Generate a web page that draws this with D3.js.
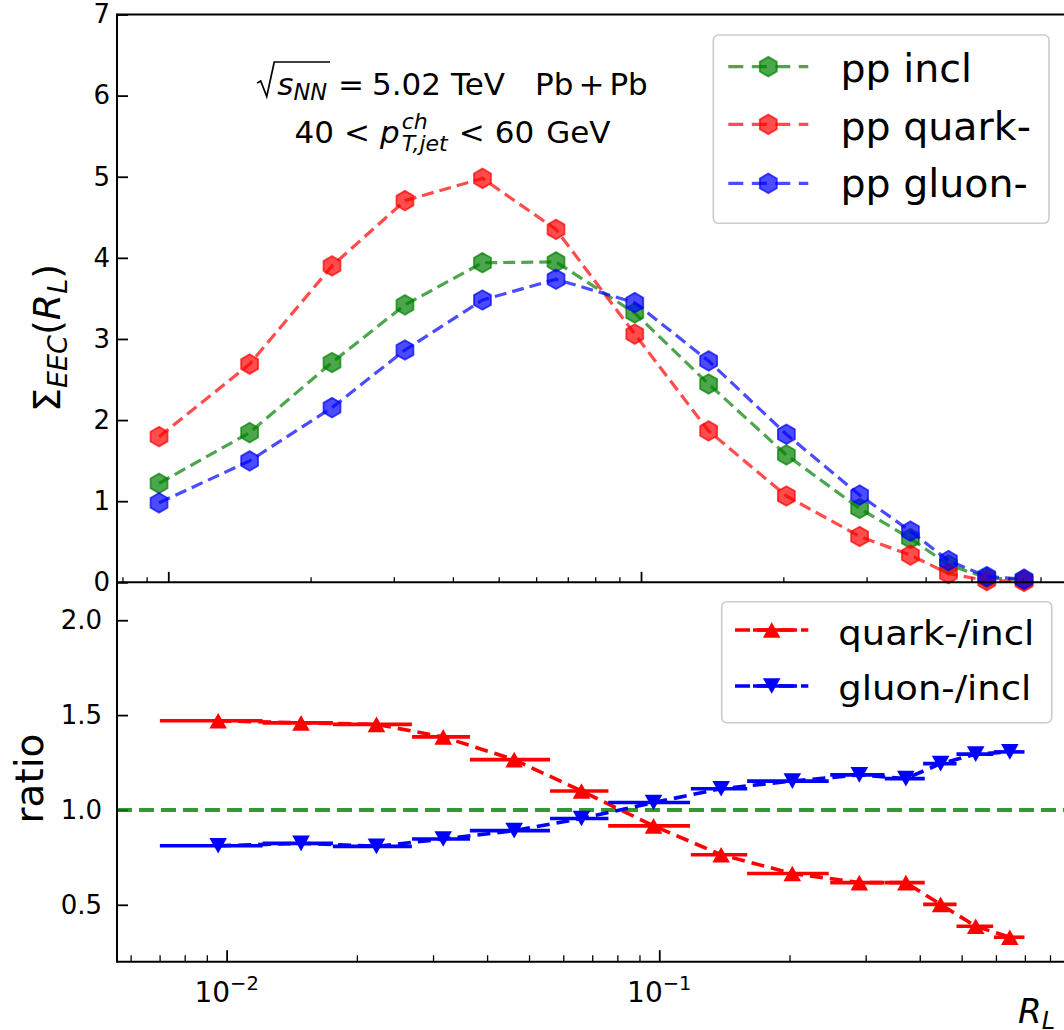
<!DOCTYPE html>
<html>
<head>
<meta charset="utf-8">
<script src="https://cdn.jsdelivr.net/npm/d3@7"></script>
<style>
  html, body { margin: 0; padding: 0; background: #ffffff; }
  svg { display: block; }
  text { font-family: "DejaVu Sans", sans-serif; fill: #000; }
</style>
</head>
<body>
<svg id="chart" width="1064" height="1030"></svg>
<script>
// R_L bin centres and half-widths of the bins
const rl          = [0.00956, 0.01486, 0.0222, 0.03167, 0.0462, 0.0661, 0.0970, 0.1390, 0.2030, 0.2900, 0.3715, 0.4470, 0.5388, 0.6460];
const rlHalfWidth = [0.00255, 0.00275, 0.0046, 0.00485, 0.0097, 0.0102, 0.0208, 0.0207, 0.0434, 0.0416, 0.0393, 0.0397, 0.0524, 0.0525];

// Sigma_EEC(R_L) for pp jets
const eecIncl  = [1.22, 1.845, 2.71, 3.42, 3.94, 3.95, 3.32, 2.445, 1.57, 0.91, 0.54, 0.215, 0.055, 0.030];
const eecQuark = [1.795, 2.69, 3.90, 4.705, 4.98, 4.35, 3.06, 1.866, 1.064, 0.565, 0.335, 0.108, 0.021, 0.010];
const eecGluon = [0.98, 1.496, 2.153, 2.864, 3.48, 3.736, 3.448, 2.729, 1.825, 1.075, 0.63, 0.267, 0.071, 0.039];

// ratios to the inclusive sample
const ratioQuark = [1.470, 1.459, 1.451, 1.385, 1.265, 1.100, 0.916, 0.764, 0.665, 0.617, 0.617, 0.502, 0.387, 0.329];
const ratioGluon = [0.811, 0.824, 0.808, 0.847, 0.891, 0.955, 1.039, 1.112, 1.152, 1.185, 1.165, 1.244, 1.294, 1.306];
const ratioReference = 1.0;

// axis ranges and ticks
const eecRange    = [0, 7];
const ratioRange  = [0.2, 2.2];
const rlRangeTop  = [0.00779, 0.832];
const rlRangeLow  = [0.00558, 0.9188];
const eecTicks    = [0, 1, 2, 3, 4, 5, 6, 7];
const ratioTicks  = [0.5, 1.0, 1.5, 2.0];
const ratioTickLabels = ["0.5", "1.0", "1.5", "2.0"];
const decadeExponents = ["\u22122", "\u22121"];

const topNames   = ["pp incl", "pp quark-", "pp gluon-"];
const topColors  = ["#008000", "#ff0000", "#0000ff"];
const ratioNames = ["quark-/incl", "gluon-/incl"];
const ratioColors = ["#ff0000", "#0000ff"];

// ---------------------------------------------------------------
const svg = d3.select("#chart");
svg.append("rect").attr("width", 1064).attr("height", 1030).attr("fill", "#fff");

const axLeft = 117, axRight = 1076;
const topPanel = { y0: 14.5, y1: 582.3 };
const lowPanel = { y0: 582.3, y1: 961.7 };

const xTop = d3.scaleLog().domain(rlRangeTop).range([axLeft, axRight]);
const xLow = d3.scaleLog().domain(rlRangeLow).range([axLeft, axRight]);
const yTop = d3.scaleLinear().domain(eecRange).range([topPanel.y1, topPanel.y0]);
const yLow = d3.scaleLinear().domain(ratioRange).range([lowPanel.y1, lowPanel.y0]);

function logTicks(scale) {
  const [a, b] = scale.domain();
  const major = [], minor = [];
  for (let e = -3; e <= 0; e++) {
    for (let k = 1; k <= 9; k++) {
      const v = k * Math.pow(10, e);
      if (v >= a && v <= b) (k === 1 ? major : minor).push(v);
    }
  }
  return { major, minor };
}

function styleTicks(g, width) {
  g.select(".domain").remove();
  g.selectAll(".tick line").attr("stroke", "#000").attr("stroke-width", width);
}

// ---------------- top panel: Sigma_EEC -----------------
const gTop = svg.append("g");

gTop.append("g")
  .attr("transform", `translate(${axLeft},0)`)
  .call(d3.axisLeft(yTop).tickValues(eecTicks).tickSize(-11).tickPadding(7).tickFormat(d3.format("d")))
  .call(g => styleTicks(g, 1.8))
  .call(g => g.selectAll(".tick text").attr("font-size", 26).attr("font-family", "DejaVu Sans").attr("fill", "#000"));

// x ticks (no labels) on the bottom edge of the top panel
const tkTop = logTicks(xTop);
gTop.append("g")
  .attr("transform", `translate(0,${topPanel.y1})`)
  .call(d3.axisBottom(xTop).tickValues(tkTop.major).tickSize(-10.5).tickFormat(""))
  .call(g => styleTicks(g, 1.8));
gTop.append("g")
  .attr("transform", `translate(0,${topPanel.y1})`)
  .call(d3.axisBottom(xTop).tickValues(tkTop.minor).tickSize(-5).tickFormat(""))
  .call(g => styleTicks(g, 1.3));

// hexagon marker, pointy top
function hexPath(r) {
  const pts = d3.range(6).map(i => {
    const a = (-90 + 60 * i) * Math.PI / 180;
    return [r * Math.cos(a), r * Math.sin(a)];
  });
  return "M" + pts.map(p => p.join(",")).join("L") + "Z";
}

const topData = [eecIncl, eecQuark, eecGluon];
const lineTop = d3.line().x((d, i) => xTop(rl[i])).y(d => yTop(d));

topData.forEach((vals, s) => {
  const col = topColors[s];
  const g = gTop.append("g");
  g.append("path")
    .attr("d", lineTop(vals))
    .attr("fill", "none")
    .attr("stroke", col)
    .attr("stroke-opacity", 0.7)
    .attr("stroke-width", 3.2)
    .attr("stroke-dasharray", "12,6");
  g.selectAll("path.m").data(vals).join("path")
    .attr("class", "m")
    .attr("d", hexPath(9.8))
    .attr("transform", (d, i) => `translate(${xTop(rl[i])},${yTop(d)})`)
    .attr("fill", col).attr("fill-opacity", 0.7)
    .attr("stroke", col).attr("stroke-opacity", 0.7).attr("stroke-width", 1.8);
});

// ---------------- lower panel: ratios -----------------
const gLow = svg.append("g");

gLow.append("g")
  .attr("transform", `translate(${axLeft},0)`)
  .call(d3.axisLeft(yLow).tickValues(ratioTicks).tickSize(-11).tickPadding(15)
        .tickFormat((d, i) => ratioTickLabels[i]))
  .call(g => styleTicks(g, 1.8))
  .call(g => g.selectAll(".tick text").attr("font-size", 26).attr("font-family", "DejaVu Sans").attr("fill", "#000"));

const tkLow = logTicks(xLow);
gLow.append("g")
  .attr("transform", `translate(0,${lowPanel.y1})`)
  .call(d3.axisBottom(xLow).tickValues(tkLow.major).tickSize(-11.5).tickFormat(""))
  .call(g => styleTicks(g, 1.8));
gLow.append("g")
  .attr("transform", `translate(0,${lowPanel.y1})`)
  .call(d3.axisBottom(xLow).tickValues(tkLow.minor).tickSize(-6.5).tickFormat(""))
  .call(g => styleTicks(g, 1.3));

// decade labels 10^-2, 10^-1
tkLow.major.forEach((v, i) => {
  const t = gLow.append("text")
    .attr("x", xLow(v)).attr("y", 1002)
    .attr("text-anchor", "middle")
    .attr("font-size", 28);
  t.append("tspan").text("10");
  t.append("tspan").attr("font-size", 19.5).attr("dy", -12).text(decadeExponents[i]);
});

// reference line at ratio = 1
gLow.append("line")
  .attr("x1", axLeft).attr("x2", axRight)
  .attr("y1", yLow(ratioReference)).attr("y2", yLow(ratioReference))
  .attr("stroke", "#008000").attr("stroke-opacity", 0.8)
  .attr("stroke-width", 4).attr("stroke-dasharray", "15,7");

function triPath(w, h, up) {
  return up
    ? `M0,${-h}L${w},${h}L${-w},${h}Z`
    : `M0,${h}L${w},${-h}L${-w},${-h}Z`;
}

const ratioData = [ratioQuark, ratioGluon];
const lineLow = d3.line().x((d, i) => xLow(rl[i])).y(d => yLow(d));

ratioData.forEach((vals, s) => {
  const col = ratioColors[s];
  const g = gLow.append("g");
  // horizontal bin-width bars
  g.selectAll("line.err").data(vals).join("line")
    .attr("class", "err")
    .attr("x1", (d, i) => xLow(rl[i] - rlHalfWidth[i]))
    .attr("x2", (d, i) => xLow(rl[i] + rlHalfWidth[i]))
    .attr("y1", d => yLow(d)).attr("y2", d => yLow(d))
    .attr("stroke", col).attr("stroke-width", 3.6);
  g.append("path")
    .attr("d", lineLow(vals))
    .attr("fill", "none")
    .attr("stroke", col)
    .attr("stroke-width", 3.6)
    .attr("stroke-dasharray", "13,7");
  g.selectAll("path.m").data(vals).join("path")
    .attr("class", "m")
    .attr("d", triPath(8.8, 7.8, s === 0))
    .attr("transform", (d, i) => `translate(${xLow(rl[i])},${yLow(d)})`)
    .attr("fill", col);
});

// ---------------- frames -----------------
const frame = svg.append("g").attr("stroke", "#000").attr("stroke-width", 2).attr("fill", "none");
frame.append("line").attr("x1", axLeft).attr("x2", axLeft).attr("y1", topPanel.y0 - 1).attr("y2", lowPanel.y1 + 1);
frame.append("line").attr("x1", axLeft).attr("x2", axRight).attr("y1", topPanel.y0).attr("y2", topPanel.y0);
frame.append("line").attr("x1", axLeft).attr("x2", axRight).attr("y1", topPanel.y1).attr("y2", topPanel.y1);
frame.append("line").attr("x1", axLeft).attr("x2", axRight).attr("y1", lowPanel.y1).attr("y2", lowPanel.y1);

// ---------------- axis titles -----------------
const yTitle = svg.append("text")
  .attr("transform", "translate(59.5,338) rotate(-90)")
  .attr("text-anchor", "middle")
  .attr("font-size", 38);
yTitle.append("tspan").text("\u03A3");
yTitle.append("tspan").attr("font-size", 27).attr("font-style", "italic").attr("dy", 7).text("EEC");
yTitle.append("tspan").attr("dy", -7).text("(");
yTitle.append("tspan").attr("font-style", "italic").text("R");
yTitle.append("tspan").attr("font-size", 27).attr("font-style", "italic").attr("dy", 7).text("L");
yTitle.append("tspan").attr("dy", -7).text(")");

svg.append("text")
  .attr("transform", "translate(43,778.5) rotate(-90)")
  .attr("text-anchor", "middle")
  .attr("font-size", 39)
  .text("ratio");

const xTitle = svg.append("text")
  .attr("x", 1018).attr("y", 1023)
  .attr("font-size", 34).attr("font-style", "italic");
xTitle.append("tspan").text("R");
xTitle.append("tspan").attr("font-size", 24).attr("dy", 6).text("L");

// ---------------- collision / jet annotation -----------------
// lays out text pieces left to right; a piece may stack super- and subscript
function runText(g, x, y, parts) {
  let cx = x;
  const spans = [];
  parts.forEach(p => {
    cx += p.gap || 0;
    const items = p.stack || [p];
    let w = 0;
    const x0 = cx;
    items.forEach(q => {
      const t = g.append("text").attr("x", cx).attr("y", y + (q.dy || 0))
        .attr("font-size", q.size).attr("font-style", q.italic ? "italic" : null).text(q.t);
      w = Math.max(w, t.node().getComputedTextLength());
    });
    cx += w;
    spans.push([x0, cx]);
  });
  return { end: cx, spans };
}

const annCenter = 452.5;

// line 1: sqrt(s_NN) = 5.02 TeV  Pb+Pb
const fsA = 31, fsAs = 22.5, radW = 17;
const line1 = svg.append("g");
const l1 = runText(line1, 0, 95, [
  { t: "s",    size: fsA, italic: true, gap: radW + 3 },
  { t: "NN",   size: fsAs, italic: true, dy: 5 },
  { t: "=",    size: fsA, gap: 11 },
  { t: "5.02", size: fsA, gap: 8 },
  { t: "TeV",  size: fsA, gap: 10 },
  { t: "Pb",   size: fsA, gap: 30 },
  { t: "+",    size: fsA, gap: 5 },
  { t: "Pb",   size: fsA, gap: 5 }
]);
const ovEnd = l1.spans[1][1] + 3;
line1.append("path")
  .attr("d", `M0,83 L3.5,81 L9.5,96.5 L${radW},62 L${ovEnd},62`)
  .attr("fill", "none").attr("stroke", "#000").attr("stroke-width", 1.7);
line1.attr("transform", `translate(${annCenter - l1.end / 2},0)`);

// line 2: 40 < p^ch_{T,jet} < 60 GeV
const fsB = 31, fsBs = 22;
const line2 = svg.append("g");
const l2 = runText(line2, 0, 143.3, [
  { t: "40", size: fsB },
  { t: "<", size: fsB, gap: 10 },
  { t: "p", size: fsB, italic: true, gap: 10 },
  { stack: [
      { t: "ch", size: fsBs, italic: true, dy: -14 },
      { t: "T,jet", size: fsBs, italic: true, dy: 8 }
    ], gap: 2 },
  { t: "<", size: fsB, gap: 11 },
  { t: "60", size: fsB, gap: 10 },
  { t: "GeV", size: fsB, gap: 12 }
]);
line2.attr("transform", `translate(${annCenter - l2.end / 2},0)`);

// ---------------- legends -----------------
function legendBox(x0, y0, x1, y1) {
  svg.append("rect")
    .attr("x", x0).attr("y", y0).attr("width", x1 - x0).attr("height", y1 - y0)
    .attr("rx", 5).attr("ry", 5)
    .attr("fill", "#fff").attr("fill-opacity", 0.8)
    .attr("stroke", "#cccccc").attr("stroke-width", 1.6);
}

// upper legend
legendBox(713.3, 35, 1049, 223.3);
const topRowY = [66.7, 124.3, 183.3];
const topRowBase = [81.7, 140, 196.7];
topNames.forEach((name, i) => {
  const col = topColors[i];
  svg.append("line")
    .attr("x1", 728.3).attr("x2", 808.3).attr("y1", topRowY[i]).attr("y2", topRowY[i])
    .attr("stroke", col).attr("stroke-opacity", 0.7).attr("stroke-width", 3.2)
    .attr("stroke-dasharray", "15,8.5");
  svg.append("path")
    .attr("d", hexPath(9.8))
    .attr("transform", `translate(768.3,${topRowY[i]})`)
    .attr("fill", col).attr("fill-opacity", 0.7)
    .attr("stroke", col).attr("stroke-opacity", 0.7).attr("stroke-width", 1.8);
  svg.append("text")
    .attr("x", 840.5).attr("y", topRowBase[i])
    .attr("font-size", 39.5)
    .text(name);
});

// lower legend
legendBox(721.7, 601.7, 1051.7, 722.7);
const lowRowY = [630, 686];
const lowRowBase = [645, 700];
const lowTextLen = [196, 193];
ratioNames.forEach((name, i) => {
  const col = ratioColors[i];
  svg.append("line")
    .attr("x1", 735).attr("x2", 808.3).attr("y1", lowRowY[i]).attr("y2", lowRowY[i])
    .attr("stroke", col).attr("stroke-width", 3.6).attr("stroke-dasharray", "15,7");
  svg.append("line")
    .attr("x1", 753).attr("x2", 797).attr("y1", lowRowY[i]).attr("y2", lowRowY[i])
    .attr("stroke", col).attr("stroke-width", 3.6);
  svg.append("path")
    .attr("d", triPath(8.8, 7.8, i === 0))
    .attr("transform", `translate(771.7,${lowRowY[i]})`)
    .attr("fill", col);
  svg.append("text")
    .attr("x", 838.3).attr("y", lowRowBase[i])
    .attr("font-size", 34)
    .attr("textLength", lowTextLen[i])
    .attr("lengthAdjust", "spacingAndGlyphs")
    .text(name);
});
</script>
</body>
</html>
